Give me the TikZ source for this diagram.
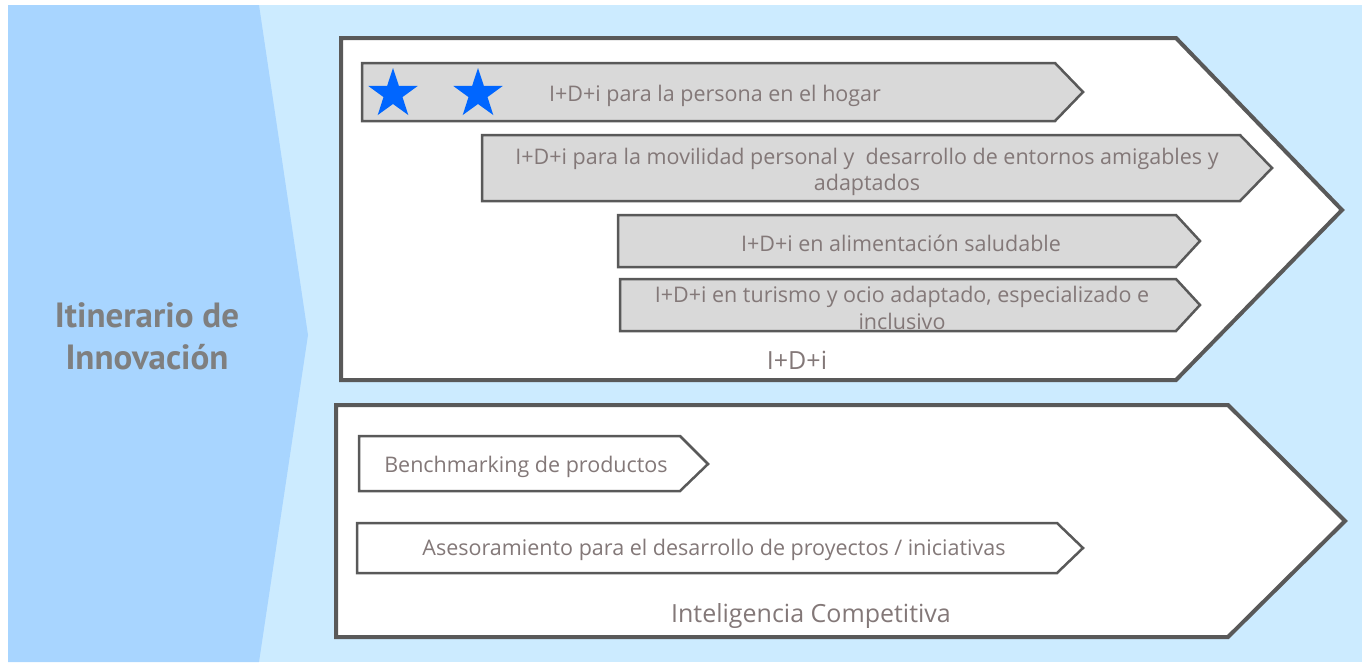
\documentclass[tikz,border=0pt]{standalone}
\usepackage{fontspec}
\setmainfont{Open Sans}
\newfontfamily\titlefont{PT Sans}
\usetikzlibrary{shapes.geometric}

\definecolor{skyback}{HTML}{CCEBFF}
\definecolor{panelblue}{HTML}{A8D5FF}
\definecolor{edgegrey}{HTML}{595959}
\definecolor{bargrey}{HTML}{D9D9D9}
\definecolor{textgrey}{HTML}{837878}
\definecolor{titlegrey}{HTML}{7F7F7F}
\definecolor{starblue}{HTML}{0066FF}

\begin{document}
\begin{tikzpicture}[x=1pt,y=-1pt,line join=miter,
   panel/.style={draw=edgegrey,line width=4pt,fill=white},
   bar/.style={draw=edgegrey,line width=2.5pt,fill=bargrey},
   plainbar/.style={bar,fill=white},
   label/.style={text=textgrey,align=center,inner sep=0pt,yshift=-2pt,
                 font=\fontsize{21.5}{26.5}\selectfont},
   biglabel/.style={label,yshift=-2pt,font=\fontsize{25}{26}\selectfont},
   bluestar/.style={star,star points=5,star point ratio=2.6,
                    minimum size=52pt,inner sep=0pt,fill=starblue}]
   \useasboundingbox (0,0) rectangle (1365,662);
   % background
   \fill[skyback] (8,5) rectangle (1362,662);
   \fill[panelblue] (8,5) -- (259,5) -- (308,335) -- (259,662) -- (8,662) -- cycle;
   \node[text=titlegrey,align=center,inner sep=0pt,
         font=\titlefont\fontsize{35}{42}\selectfont\bfseries] (titulo) at (147,336)
         {Itinerario de\\Innovación};
   % I+D+i
   \draw[panel] (341,38) -- (1176,38) -- (1342,210) -- (1176,380) -- (341,380) -- cycle;
   \draw[bar] (362,63) -- (1055,63) -- (1083,92) -- (1055,121) -- (362,121) -- cycle;
   \draw[bar] (482,135) -- (1240,135) -- (1272,168) -- (1240,201) -- (482,201) -- cycle;
   \draw[bar] (618,215) -- (1176,215) -- (1200,241) -- (1176,267) -- (618,267) -- cycle;
   \draw[bar] (620,279) -- (1176,279) -- (1200,305) -- (1176,331) -- (620,331) -- cycle;
   \node[bluestar] (star1) at (393,94) {};
   \node[bluestar] (star2) at (478,94) {};
   \node[label] (hogar) at (715,94) {I+D+i para la persona en el hogar};
   \node[label] (movilidad) at (867,170)
        {I+D+i para la movilidad personal y \ desarrollo de entornos amigables y\\adaptados};
   \node[label] (alimentacion) at (901,241) {I+D+i en alimentación saludable};
   \node[label] (turismo) at (902,306)
        {I+D+i en turismo y ocio adaptado, especializado e\\inclusivo};
   \node[biglabel] (idi) at (797,356) {I+D+i};
   % Inteligencia Competitiva
   \draw[panel] (336,405) -- (1228,405) -- (1345,521) -- (1228,637) -- (336,637) -- cycle;
   \draw[plainbar] (359,436) -- (680,436) -- (708,464) -- (680,491) -- (359,491) -- cycle;
   \draw[plainbar] (357,523) -- (1057,523) -- (1083,548) -- (1057,573) -- (357,573) -- cycle;
   \node[label] (benchmark) at (526,465) {Benchmarking de productos};
   \node[label] (asesor) at (714,548)
        {Asesoramiento para el desarrollo de proyectos / iniciativas};
   \node[biglabel] (intel) at (811,612) {Inteligencia Competitiva};
\end{tikzpicture}
\end{document}
